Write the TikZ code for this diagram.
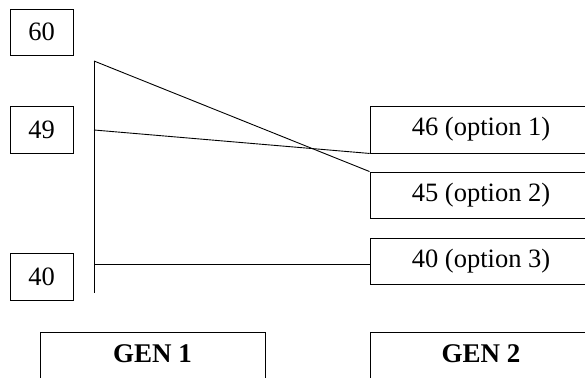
\documentclass[tikz,border=0pt]{standalone}
\usepackage{fontspec}
\setmainfont{Liberation Serif}
\begin{document}
\begin{tikzpicture}[x=1pt,y=-1pt,
  box/.style={draw,line width=0.9pt,inner sep=0pt,font=\fontsize{26.5}{30}\selectfont},
  genbox/.style={draw,line width=0.9pt,inner sep=0pt,font=\bfseries\fontsize{27}{30}\selectfont},
  conn/.style={line width=0.9pt}]
\useasboundingbox (0,0) rectangle (585,377);
\clip (0,0) rectangle (585,377);
\node[box,minimum width=63pt,minimum height=46pt] (b60) at (41.5,32) {60};
\node[box,minimum width=63pt,minimum height=47pt] (b49) at (41.5,129.5) {49};
\node[box,minimum width=63pt,minimum height=47pt] (b40) at (41.5,276.5) {40};
\node[box,minimum width=222pt,minimum height=47pt] (o1) at (481,129.5) {46 (option 1)};
\node[box,minimum width=222pt,minimum height=46pt] (o2) at (481,195) {45 (option 2)};
\node[box,minimum width=222pt,minimum height=46pt] (o3) at (481,261) {\raisebox{3pt}{40 (option 3)}};
\node[genbox,minimum width=225pt,minimum height=46pt] (g1) at (152.5,355) {\raisebox{3pt}{GEN 1}};
\node[genbox,minimum width=222pt,minimum height=46pt] (g2) at (481,355) {\raisebox{3pt}{GEN 2}};
\coordinate (vtop) at (94,61);
\coordinate (vbot) at (94,293);
\coordinate (a49) at (94,130);
\coordinate (a40) at (94,264);
\draw[conn] (vtop) -- (vbot);
\draw[conn] (vtop) -- (o2.north west);
\draw[conn] (a49) -- (o1.south west);
\draw[conn] (a40) -- (a40 -| o3.west);
\end{tikzpicture}
\end{document}
